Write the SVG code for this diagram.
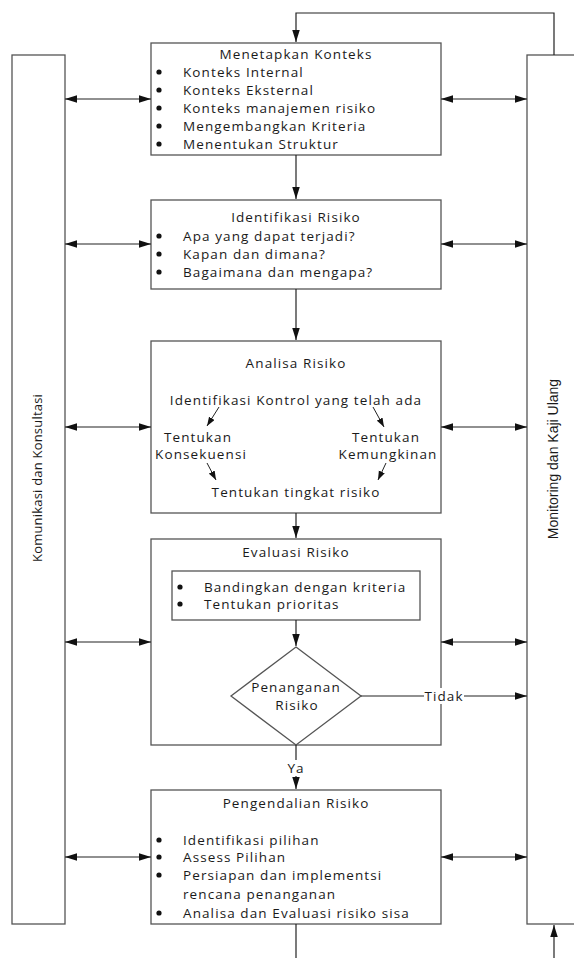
<svg xmlns="http://www.w3.org/2000/svg" width="574" height="958" viewBox="0 0 574 958">
<style>
.box{fill:#fff;stroke:#555;stroke-width:1.3}
.bar{fill:#fff;stroke:#555;stroke-width:1.3}
.t{font-family:"Open Sans",sans-serif;font-size:13.5px;letter-spacing:1.1px;fill:#1a1a1a}
.c{text-anchor:middle}
.ln{fill:none;stroke:#222;stroke-width:1.2}
.sm{fill:none;stroke:#222;stroke-width:1}
.dot{fill:#111}
</style>
<defs>
<marker id="ah" markerUnits="userSpaceOnUse" markerWidth="13" markerHeight="8" refX="12" refY="3.75" orient="auto-start-reverse">
<path d="M0,0 L12,3.75 L0,7.5 z" fill="#111"/>
</marker>
<marker id="ahs" markerUnits="userSpaceOnUse" markerWidth="10" markerHeight="7" refX="9" refY="3.25" orient="auto">
<path d="M0,0 L9,3.25 L0,6.5 z" fill="#111"/>
</marker>
</defs>
<rect width="574" height="958" fill="#fff"/>

<g id="bar-komunikasi">
<rect class="bar" x="12" y="55" width="53" height="869"/>
<text x="42" y="478" transform="rotate(-90 42 478)" class="c" style="font-family:'Open Sans',sans-serif;font-size:13px;letter-spacing:0.2px;fill:#1a1a1a">Komunikasi dan Konsultasi</text>
</g>

<g id="bar-monitoring">
<rect class="bar" x="527" y="55" width="60" height="869"/>
<text x="558" y="459" transform="rotate(-90 558 459)" class="c" style="font-family:'Liberation Sans',Arial,sans-serif;font-size:14px;fill:#1a1a1a">Monitoring dan Kaji Ulang</text>
</g>

<g id="menetapkan-konteks">
<rect class="box" x="151" y="43" width="290" height="112"/>
<text class="t c" x="296" y="59">Menetapkan Konteks</text>
<circle class="dot" cx="159" cy="72" r="2.6"/><text class="t" x="183" y="77">Konteks Internal</text>
<circle class="dot" cx="159" cy="90" r="2.6"/><text class="t" x="183" y="95">Konteks Eksternal</text>
<circle class="dot" cx="159" cy="108" r="2.6"/><text class="t" x="183" y="113">Konteks manajemen risiko</text>
<circle class="dot" cx="159" cy="126" r="2.6"/><text class="t" x="183" y="131">Mengembangkan Kriteria</text>
<circle class="dot" cx="159" cy="144" r="2.6"/><text class="t" x="183" y="149">Menentukan Struktur</text>
</g>

<g id="identifikasi-risiko">
<rect class="box" x="151" y="200" width="290" height="89"/>
<text class="t c" x="296" y="222">Identifikasi Risiko</text>
<circle class="dot" cx="159" cy="236" r="2.6"/><text class="t" x="183" y="241">Apa yang dapat terjadi?</text>
<circle class="dot" cx="159" cy="254" r="2.6"/><text class="t" x="183" y="259">Kapan dan dimana?</text>
<circle class="dot" cx="159" cy="272" r="2.6"/><text class="t" x="183" y="277">Bagaimana dan mengapa?</text>
</g>

<g id="analisa-risiko">
<rect class="box" x="151" y="341" width="290" height="172"/>
<text class="t c" x="296" y="368">Analisa Risiko</text>
<text class="t c" x="296" y="405">Identifikasi Kontrol yang telah ada</text>
<text class="t c" x="198" y="442">Tentukan</text>
<text class="t c" x="201" y="459">Konsekuensi</text>
<text class="t c" x="386" y="442">Tentukan</text>
<text class="t c" x="388" y="459">Kemungkinan</text>
<text class="t c" x="296" y="497">Tentukan tingkat risiko</text>
<path class="sm" d="M219,407 L207,426" marker-end="url(#ahs)"/>
<path class="sm" d="M373,407 L384,427" marker-end="url(#ahs)"/>
<path class="sm" d="M207,463 L216,480" marker-end="url(#ahs)"/>
<path class="sm" d="M386,463 L378,480" marker-end="url(#ahs)"/>
</g>

<g id="evaluasi-risiko">
<rect class="box" x="151" y="539" width="290" height="206"/>
<text class="t c" x="296" y="557">Evaluasi Risiko</text>
<rect class="box" x="172" y="571" width="248" height="49"/>
<circle class="dot" cx="180" cy="587" r="2.6"/><text class="t" x="204" y="592">Bandingkan dengan kriteria</text>
<circle class="dot" cx="180" cy="604" r="2.6"/><text class="t" x="204" y="609">Tentukan prioritas</text>
</g>

<g id="penanganan-risiko">
<path class="box" d="M296,647 L361,696 L296,745 L231,696 z"/>
<text class="t c" x="296" y="692">Penanganan</text>
<text class="t c" x="297" y="710">Risiko</text>
</g>

<g id="pengendalian-risiko">
<rect class="box" x="151" y="790" width="290" height="134"/>
<text class="t c" x="296" y="808">Pengendalian Risiko</text>
<circle class="dot" cx="159" cy="840" r="2.6"/><text class="t" x="183" y="845">Identifikasi pilihan</text>
<circle class="dot" cx="159" cy="857" r="2.6"/><text class="t" x="183" y="862">Assess Pilihan</text>
<circle class="dot" cx="159" cy="875" r="2.6"/><text class="t" x="183" y="880">Persiapan dan implementsi</text>
<text class="t" x="183" y="899">rencana penanganan</text>
<circle class="dot" cx="159" cy="913" r="2.6"/><text class="t" x="183" y="918">Analisa dan Evaluasi risiko sisa</text>
</g>

<g id="connectors">
<path class="ln" d="M554,55 L554,13 L296,13 L296,42" marker-end="url(#ah)"/>
<path class="ln" d="M296,155 L296,199" marker-end="url(#ah)"/>
<path class="ln" d="M296,289 L296,340" marker-end="url(#ah)"/>
<path class="ln" d="M296,513 L296,538" marker-end="url(#ah)"/>
<path class="ln" d="M296,620 L296,646" marker-end="url(#ah)"/>
<path class="ln" d="M296,745 L296,789" marker-end="url(#ah)"/>
<path class="ln" d="M361,696 L527,696" marker-end="url(#ah)"/>
<path class="ln" d="M296,924 L296,958"/>
<path class="ln" d="M554,958 L554,925" marker-end="url(#ah)"/>
<path class="ln" d="M65,99 L151,99" marker-start="url(#ah)" marker-end="url(#ah)"/>
<path class="ln" d="M441,99 L527,99" marker-start="url(#ah)" marker-end="url(#ah)"/>
<path class="ln" d="M65,244 L151,244" marker-start="url(#ah)" marker-end="url(#ah)"/>
<path class="ln" d="M441,244 L527,244" marker-start="url(#ah)" marker-end="url(#ah)"/>
<path class="ln" d="M65,427 L151,427" marker-start="url(#ah)" marker-end="url(#ah)"/>
<path class="ln" d="M441,427 L527,427" marker-start="url(#ah)" marker-end="url(#ah)"/>
<path class="ln" d="M65,642 L151,642" marker-start="url(#ah)" marker-end="url(#ah)"/>
<path class="ln" d="M441,642 L527,642" marker-start="url(#ah)" marker-end="url(#ah)"/>
<path class="ln" d="M65,857 L151,857" marker-start="url(#ah)" marker-end="url(#ah)"/>
<path class="ln" d="M441,857 L527,857" marker-start="url(#ah)" marker-end="url(#ah)"/>
</g>

<g id="labels">
<rect x="424" y="688" width="40" height="16" fill="#fff"/>
<text class="t c" x="444" y="701">Tidak</text>
<rect x="286" y="760" width="20" height="16" fill="#fff"/>
<text class="t c" x="296" y="773">Ya</text>
</g>
</svg>
